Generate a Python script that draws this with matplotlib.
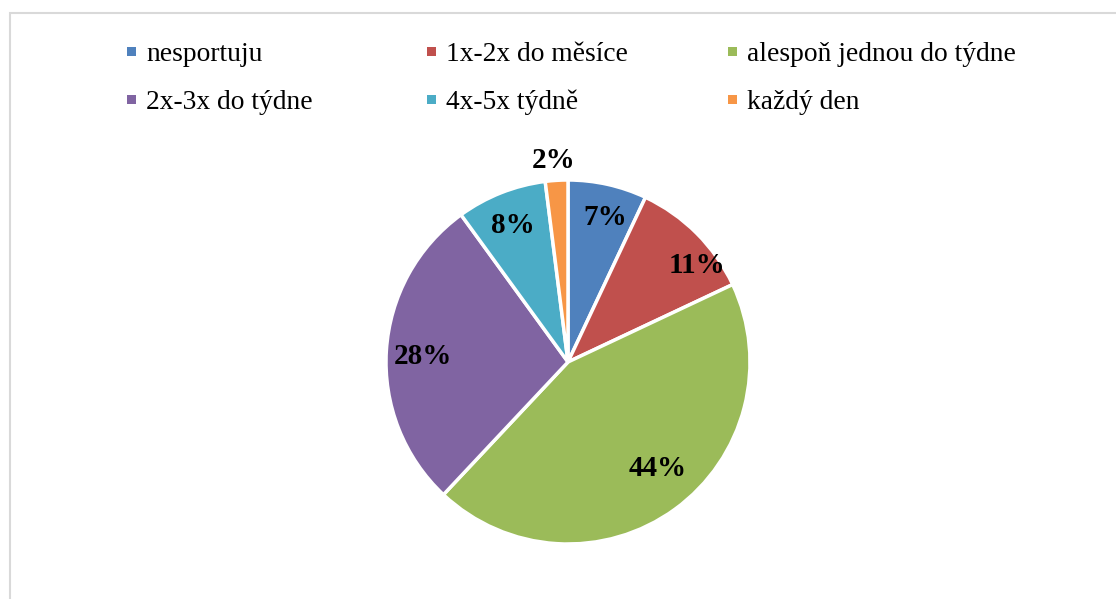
import numpy as np
import matplotlib.pyplot as plt
from matplotlib.patches import Rectangle

categories = ['nesportuju', '1x-2x do měsíce', 'alespoň jednou do týdne',
              '2x-3x do týdne', '4x-5x týdně', 'každý den']
shares = [7, 11, 44, 28, 8, 2]
colors = ['#4F81BD', '#C0504D', '#9BBB59', '#8064A2', '#4BACC6', '#F79646']

plt.rcParams['font.family'] = ['Liberation Serif', 'DejaVu Serif']

W, H = 1116, 599
fig = plt.figure(figsize=(W / 100, H / 100), dpi=100)

# light grey chart frame, running off the right and bottom edges
fig.patches.append(Rectangle((9.5 / W, -0.1), 1.2, 1 - 12.5 / H + 0.1,
                             transform=fig.transFigure, fill=False,
                             edgecolor='#d9d9d9', linewidth=1.5))

# pie: centre (568, 362) px, radius 182 px
cx, cy, R = 568, 362, 182
ax = fig.add_axes([(cx - R) / W, (H - cy - R) / H, 2 * R / W, 2 * R / H])
wedges, _ = ax.pie(shares, colors=colors, startangle=90, counterclock=False,
                   radius=1.0, wedgeprops=dict(edgecolor='white', linewidth=2.5))
ax.set_xlim(-1, 1)
ax.set_ylim(-1, 1)
ax.set_aspect('auto')
ax.axis('off')

# label placement: radial distance and angle shift per slice
lab_r = [0.82, 0.885, 0.765, 0.80, 0.81, 1.11]
lab_dt = [-1.8, -8.3, 4.3, 1.6, 0.3, 0.4]
for w, v, r, dt in zip(wedges, shares, lab_r, lab_dt):
    th = np.deg2rad((w.theta1 + w.theta2) / 2 + dt)
    ax.text(r * np.cos(th), r * np.sin(th), f'{v}%', ha='center', va='center',
            fontsize=21, fontweight='bold', clip_on=False)

# legend, three columns by two rows
col_x = [131.5, 431.5, 732]
row_y = [51.5, 99.5]
for i, (lab, c) in enumerate(zip(categories, colors)):
    x = col_x[i % 3]
    y = row_y[i // 3]
    fig.patches.append(Rectangle(((x - 4.5) / W, (H - y - 4.5) / H), 9 / W, 9 / H,
                                 transform=fig.transFigure, facecolor=c,
                                 edgecolor='none'))
    fig.text((x + 15) / W, (H - y) / H, lab, ha='left', va='center_baseline',
             fontsize=19.8)

fig.savefig('out.png', dpi=100)
